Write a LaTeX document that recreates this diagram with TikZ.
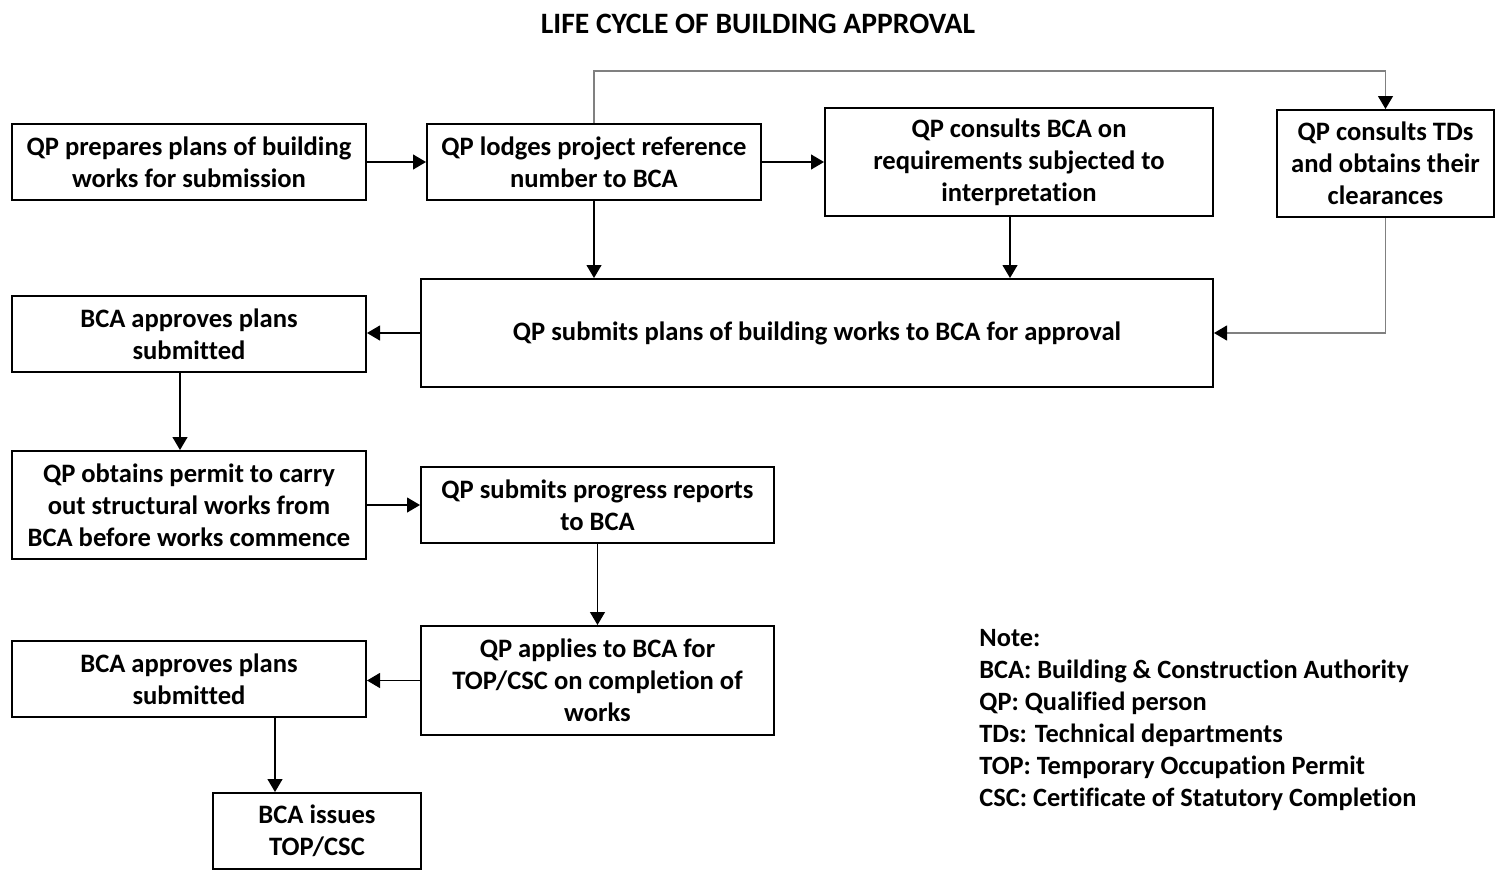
\documentclass[tikz,border=0pt]{standalone}
\usepackage{fontspec}
\setmainfont{Carlito}[Ligatures=CommonOff]
\usetikzlibrary{positioning}
\usetikzlibrary{arrows.meta}
\definecolor{linegray}{gray}{0.5}

\begin{document}
\begin{tikzpicture}[x=0.5pt, y=-0.5pt,
    box/.style={draw, line width=1pt, align=center, inner sep=0pt, font=\fontsize{13.3}{16}\selectfont\bfseries},
    arr/.style={-{Triangle[length=6.5pt, width=7.5pt, color=black]}, line width=0.6pt},
    grayarr/.style={arr, draw=linegray}]
            \useasboundingbox (0, 0) rectangle (1510, 894);

            \node[font=\fontsize{14.8}{16}\selectfont\bfseries] (title) at (758, 24) {LIFE CYCLE OF BUILDING APPROVAL};

            \node[box, minimum width=177pt, minimum height=38pt] (prep) at (189, 162) {QP prepares plans of building\\works for submission};
            \node[box, minimum width=167pt, minimum height=38pt] (lodge) at (594, 162) {QP lodges project reference\\number to BCA};
            \node[box, minimum width=194pt, minimum height=54pt] (consult) at (1019, 162) {QP consults BCA on\\requirements subjected to\\interpretation};
            \node[box, minimum width=108.5pt, minimum height=53.5pt] (tds) at (1385.5, 163.5) {QP consults TDs\\and obtains their\\clearances};
            \node[box, minimum width=396pt, minimum height=54pt] (submit) at (817, 333) {QP submits plans of building works to BCA for approval};
            \node[box, minimum width=177pt, minimum height=38pt] (approve1) at (189, 334) {BCA approves plans\\submitted};
            \node[box, minimum width=177pt, minimum height=54pt] (permit) at (189, 505) {QP obtains permit to carry\\out structural works from\\BCA before works commence};
            \node[box, minimum width=176.5pt, minimum height=38pt] (progress) at (597.5, 505) {QP submits progress reports\\to BCA};
            \node[box, minimum width=176.5pt, minimum height=54.5pt] (applies) at (597.5, 680.5) {QP applies to BCA for\\TOP/CSC on completion of\\works};
            \node[box, minimum width=177pt, minimum height=38pt] (approve2) at (189, 679) {BCA approves plans\\submitted};
            \node[box, minimum width=104pt, minimum height=38pt] (issues) at (317, 831) {BCA issues\\TOP/CSC};

            \node[align=left, anchor=west, inner sep=0pt, font=\fontsize{13.2}{16}\selectfont\bfseries] (note) at (979, 720) {Note:\\BCA: Building \& Construction Authority\\QP: Qualified person\\TDs: Technical departments\\TOP: Temporary Occupation Permit\\CSC: Certificate of Statutory Completion};

            \draw[arr] (prep) -- (lodge);
            \draw[arr] (lodge) -- (consult);
            \draw[grayarr] (lodge.north) -- ++(0, -52) -| (tds.north);
            \draw[arr] (lodge.south) -- (lodge.south |- submit.north);
            \draw[arr] ([xshift=-4.5pt]consult.south) -- ([xshift=-4.5pt]consult.south |- submit.north);
            \draw[grayarr] (tds.south) |- (submit.east);
            \draw[arr] (submit.west) -- (submit.west -| approve1.east);
            \draw[arr] ([xshift=-4.5pt]approve1.south) -- ([xshift=-4.5pt]approve1.south |- permit.north);
            \draw[arr] (permit) -- (progress);
            \draw[arr] (progress.south) -- (progress.south |- applies.north);
            \draw[arr] (applies.west) -- (applies.west -| approve2.east);
            \draw[arr] ([xshift=43pt]approve2.south) -- ([xshift=43pt]approve2.south |- issues.north);

          \end{tikzpicture}
\end{document}
